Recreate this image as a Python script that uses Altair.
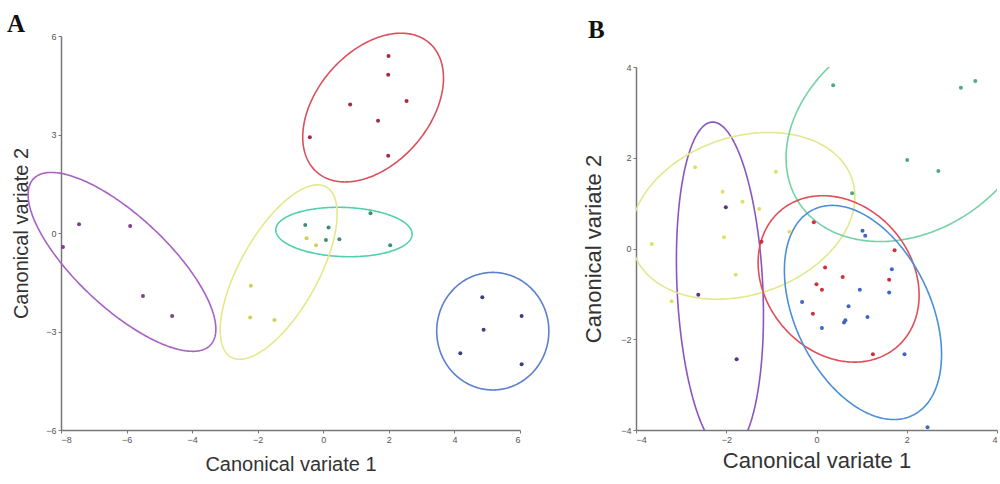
import altair as alt
import pandas as pd
import numpy as np

# ---------------- Panel A data ----------------
a_pt_group = (["purple"] * 5 + ["red"] * 7 + ["green"] * 6 + ["yellow"] * 5 + ["blue"] * 5)
a_pt_x = [-7.94, -7.45, -5.89, -5.50, -4.61,
          1.99, 1.98, 0.82, 2.54, 1.67, -0.41, 1.98,
          -0.55, 0.16, 0.08, 0.49, 1.44, 2.04,
          -0.51, -0.22, -2.21, -2.23, -1.49,
          4.85, 6.05, 4.89, 4.18, 6.05]
a_pt_y = [-0.43, 0.27, 0.21, -1.92, -2.53,
          5.39, 4.82, 3.91, 4.02, 3.42, 2.92, 2.35,
          0.24, 0.17, -0.21, -0.19, 0.60, -0.37,
          -0.16, -0.37, -1.61, -2.57, -2.65,
          -1.96, -2.53, -2.95, -3.66, -4.00]

# ellipses: group, centre x, centre y, semi-axis a, semi-axis b, angle of a (deg)
a_ell_group = ["purple", "red", "green", "yellow", "blue"]
a_ell_cx = [-6.14, 1.52, 0.63, -1.36, 5.17]
a_ell_cy = [-0.88, 3.82, 0.03, -1.19, -2.99]
a_ell_a = [3.70, 2.61, 2.08, 2.97, 1.71]
a_ell_b = [1.39, 1.71, 0.75, 1.19, 1.79]
a_ell_ang = [-43.1, 48.85, -2.0, 60.8, 0.0]

a_x_ticks = [-8, -6, -4, -2, 0, 2, 4, 6]
a_y_ticks = [-6, -3, 0, 3, 6]

# ---------------- Panel B data ----------------
b_pt_group = (["yellow"] * 10 + ["purple"] * 3 + ["green"] * 6 + ["red"] * 10 + ["blue"] * 13)
b_pt_x = [-2.69, -2.08, -1.64, -1.27, -0.90, -2.05, -3.65, -1.79, -3.21, -0.60,
          -2.01, -2.62, -1.77,
          0.37, 3.20, 3.52, 2.01, 2.70, 0.79,
          -0.06, 1.73, 0.19, 0.58, 0.00, 0.12, 1.61, -0.08, 1.25, -1.22,
          1.02, 1.08, 1.67, 0.96, 1.61, -0.32, 0.71, 0.61, 0.64, 1.13, 0.12, 1.95, 2.46]
b_pt_y = [1.79, 1.25, 1.03, 0.87, 1.69, 0.25, 0.10, -0.58, -1.16, 0.37,
          0.91, -1.02, -2.44,
          3.60, 3.54, 3.69, 1.95, 1.71, 1.22,
          0.58, -0.04, -0.42, -0.63, -0.79, -0.91, -0.69, -1.44, -2.33, 0.15,
          0.39, 0.28, -0.46, -0.91, -0.97, -1.18, -1.27, -1.63, -1.58, -1.51, -1.75, -2.33, -3.94]

b_ell_group = ["purple", "yellow", "green", "red", "blue"]
b_ell_cx = [-2.14, -1.63, 2.10, 0.49, 1.03]
b_ell_cy = [-0.86, 0.72, 2.61, -0.67, -1.41]
b_ell_a = [3.65, 2.55, 2.96, 1.98, 2.52]
b_ell_b = [0.95, 1.74, 2.23, 1.62, 1.50]
b_ell_ang = [92.7, 18.5, 32.0, -49.0, -64.1]

b_x_ticks = [-4, -2, 0, 2, 4]
b_y_ticks = [-4, -2, 0, 2, 4]

# colours
a_line_col = {"purple": "#a862c4", "red": "#d9515b", "green": "#52d0ac",
              "yellow": "#e3e98a", "blue": "#5c7fd0"}
a_pt_col = {"purple": "#7e3f8c", "red": "#9c2f3f", "green": "#3f8f6c",
            "yellow": "#cfd05a", "blue": "#34427e"}
b_line_col = {"purple": "#8a55bf", "red": "#df4f58", "green": "#74d2a6",
              "yellow": "#e2e88e", "blue": "#4c8fd6"}
b_pt_col = {"purple": "#5d2f85", "red": "#cf3037", "green": "#4faa7c",
            "yellow": "#e0e066", "blue": "#3e66c4"}


def ellipse_frame(groups, cx, cy, aa, bb, ang, colmap):
    rows = []
    t = np.linspace(0, 2 * np.pi, 361)
    for g, x0, y0, a, b, d in zip(groups, cx, cy, aa, bb, ang):
        p = np.deg2rad(d)
        xs = x0 + a * np.cos(t) * np.cos(p) - b * np.sin(t) * np.sin(p)
        ys = y0 + a * np.cos(t) * np.sin(p) + b * np.sin(t) * np.cos(p)
        for i, (xx, yy) in enumerate(zip(xs, ys)):
            rows.append({"g": g, "i": i, "x": xx, "y": yy, "col": colmap[g]})
    return pd.DataFrame(rows)


dfA = pd.DataFrame({"g": a_pt_group, "x": a_pt_x, "y": a_pt_y})
dfA["col"] = dfA["g"].map(a_pt_col)
dfAE = ellipse_frame(a_ell_group, a_ell_cx, a_ell_cy, a_ell_a, a_ell_b, a_ell_ang, a_line_col)

dfB = pd.DataFrame({"g": b_pt_group, "x": b_pt_x, "y": b_pt_y})
dfB["col"] = dfB["g"].map(b_pt_col)
dfBE = ellipse_frame(b_ell_group, b_ell_cx, b_ell_cy, b_ell_a, b_ell_b, b_ell_ang, b_line_col)


def axis(values, title, tsize, tpad):
    return alt.Axis(values=values, grid=False, tickSize=3, labelFontSize=9,
                    labelColor="#555555", labelFont="Liberation Sans", labelPadding=2,
                    domainColor="#777777", tickColor="#777777", domainWidth=1.5,
                    title=title, titleFontSize=tsize, titleFontWeight="normal",
                    titleFont="Liberation Sans", titleColor="#333333", titlePadding=tpad)


# ---------------- Panel A chart ----------------
xA = alt.X("x:Q", scale=alt.Scale(domain=[-8, 6], nice=False, zero=False),
           axis=axis(a_x_ticks, "Canonical variate 1", 20, 10))
yA = alt.Y("y:Q", scale=alt.Scale(domain=[-6, 6], nice=False, zero=False),
           axis=axis(a_y_ticks, "Canonical variate 2", 20, 14))

ellA = alt.Chart(dfAE).mark_line(strokeWidth=1.6).encode(
    x=xA, y=yA, order="i:Q", detail="g:N", color=alt.Color("col:N", scale=None))
ptsA = alt.Chart(dfA).mark_circle(size=16, opacity=1).encode(
    x="x:Q", y="y:Q", color=alt.Color("col:N", scale=None))
labA = alt.Chart(pd.DataFrame({"t": ["A"]})).mark_text(
    font="Liberation Serif", fontWeight="bold", fontSize=25, align="left",
    baseline="alphabetic", color="#111111").encode(
    x=alt.value(-54), y=alt.value(-4), text="t:N")

chartA = alt.layer(ellA, ptsA, labA).properties(width=459, height=394)

# ---------------- Panel B chart ----------------
xB = alt.X("x:Q", scale=alt.Scale(domain=[-4, 4], nice=False, zero=False),
           axis=axis(b_x_ticks, "Canonical variate 1", 22, 6))
yB = alt.Y("y:Q", scale=alt.Scale(domain=[-4, 4], nice=False, zero=False),
           axis=axis(b_y_ticks, "Canonical variate 2", 22, 15))

ellB = alt.Chart(dfBE).mark_line(strokeWidth=1.6, clip=True).encode(
    x=xB, y=yB, order="i:Q", detail="g:N", color=alt.Color("col:N", scale=None))
ptsB = alt.Chart(dfB).mark_circle(size=16, opacity=1, clip=True).encode(
    x="x:Q", y="y:Q", color=alt.Color("col:N", scale=None))
chartB = alt.layer(ellB, ptsB).properties(width=361, height=363)

spacer = alt.Chart(pd.DataFrame({"t": ["B"]})).mark_text(
    font="Liberation Serif", fontWeight="bold", fontSize=25, align="left",
    baseline="alphabetic", color="#111111").encode(
    x=alt.value(-48), y=alt.value(2), text="t:N").properties(width=361, height=27)

right = alt.vconcat(spacer, chartB, spacing=0)

chart = alt.hconcat(chartA, right, spacing=29).properties(
    padding={"left": 7, "top": 12, "right": 0, "bottom": 0},
    background="white"
).configure_view(strokeWidth=0, stroke="transparent")

chart.save("out.html", embed_options={"renderer": "svg", "actions": False})
